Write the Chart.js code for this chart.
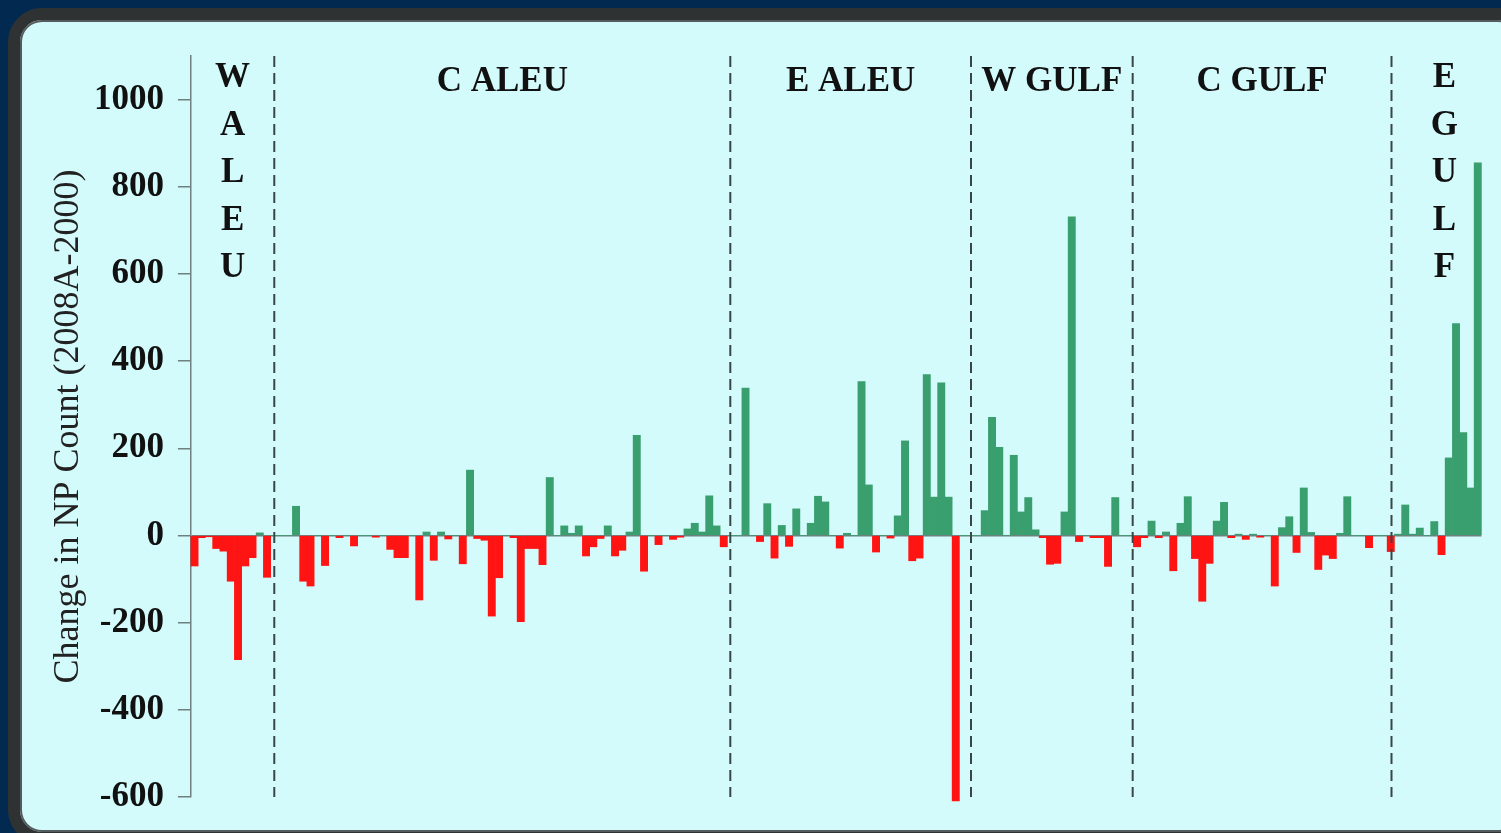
<!DOCTYPE html>
<html>
<head>
<meta charset="utf-8">
<script src="https://cdn.jsdelivr.net/npm/chart.js@4.4.1/dist/chart.umd.min.js"></script>
<style>
    html, body { margin: 0; padding: 0; }
    body { width: 1501px; height: 833px; background: #022a50; position: relative; overflow: hidden; }
    .panel {
        position: absolute; left: 8px; top: 8px; width: 1500px; height: 812px;
        border: 12px solid #2f3233; border-radius: 34px; background: #d4fbfb;
        box-shadow: inset 0 0 0 2px #555a5c;
    }
    #npChart { position: absolute; left: 0; top: 0; }
</style>
</head>
<body>
<div class="panel"></div>
<canvas id="npChart" width="1501" height="833"></canvas>
<script>
// regions along the coast, west to east
const regionNames = ['W ALEU', 'C ALEU', 'E ALEU', 'W GULF', 'C GULF', 'E GULF'];
// dashed separators, as category positions
const dividers = [11.0, 73.9, 107.1, 129.4, 165.1];

// change in NP count per site (2008A - 2000)
const changes = [
    -70, -5, -3, -30, -36, -105, -285, -70, -51, 6, -96,
    0, 0, 0, 67, -105, -116, 0, -69, 0, -5, 0, -24, 0, 0, -4, 0, -32, -51, -51,
    0, -148, 8, -57, 8, -8, 0, -65, 150, -7, -11, -185, -97, 0, -5, -198, -30, -30, -67, 133,
    0, 22, 5, 22, -47, -26, -7, 22, -47, -34, 8, 230, -82, 0, -21, 0, -9, -4, 15, 28,
    8, 91, 22, -26, 0, 0, 338, 0, -14, 73, -52, 23, -25, 61, 0, 28, 90, 77, 0, -29,
    5, 0, 353, 116, -38, 0, -6, 45, 217, -58, -52, 369, 88, 350, 88, -609, 0, 0, 0, 57,
    271, 202, 0, 184, 54, 87, 13, -5, -66, -64, 54, 731, -14, 0, -5, -5, -71, 87, 0, 0,
    -26, -5, 33, -5, 8, -81, 28, 89, -53, -151, -64, 33, 76, -5, 3, -9, 3, -4, 0, -116,
    18, 43, -39, 109, 7, -78, -45, -53, 5, 89, 0, 0, -28, 0, 0, -37, 3, 70, 3, 17,
    0, 32, -44, 178, 486, 236, 109, 855
];
const sites = changes.map((_, i) => i + 1);

const yMin = -600;
const yMax = 1100;
const yStep = 200;

const green = '#3a9f6f';
const red = '#ff1414';
const axisGrey = '#6f8081';

const regionPlugin = {
    id: 'regions',
    afterDatasetsDraw(chart) {
        const { ctx, chartArea: a, scales: { x } } = chart;
        const xs = dividers.map(d => x.getPixelForValue(d));
        ctx.save();
        ctx.strokeStyle = '#394646';
        ctx.lineWidth = 2;
        ctx.setLineDash([11, 6]);
        xs.forEach(px => {
            ctx.beginPath();
            ctx.moveTo(px, a.top);
            ctx.lineTo(px, a.bottom);
            ctx.stroke();
        });
        ctx.setLineDash([]);

        ctx.fillStyle = '#111';
        ctx.font = 'bold 35px "Liberation Serif"';
        ctx.textAlign = 'center';
        ctx.textBaseline = 'middle';
        const edges = [a.left, ...xs, a.right];
        regionNames.forEach((name, i) => {
            const cx = (edges[i] + edges[i + 1]) / 2;
            const w = edges[i + 1] - edges[i];
            if (ctx.measureText(name).width < w - 10) {
                ctx.fillText(name, cx, 82);
            } else {
                // too narrow: stack the letters
                name.replace(/ /g, '').split('').forEach((ch, j) => {
                    ctx.fillText(ch, cx + (i === 0 ? 0 : 8), 78 + j * 47.5);
                });
            }
        });
        ctx.restore();
    }
};

document.addEventListener('DOMContentLoaded', function () {
    const ctx = document.getElementById('npChart');
    new Chart(ctx, {
        type: 'bar',
        data: {
            labels: sites,
            datasets: [{
                data: changes,
                backgroundColor: changes.map(v => v >= 0 ? green : red),
                borderWidth: 0,
                barPercentage: 1,
                categoryPercentage: 1,
                clip: false // the deepest bar runs a bit past -600
            }]
        },
        options: {
            responsive: false,
            animation: false,
            layout: {
                padding: { left: 45, right: 19.6, top: 56, bottom: 36 }
            },
            plugins: {
                legend: { display: false },
                tooltip: { enabled: false }
            },
            scales: {
                x: {
                    display: false
                },
                y: {
                    min: yMin,
                    max: yMax,
                    afterFit(scale) {
                        scale.width = 145.9; // keep the plot left edge where the original has it
                    },
                    ticks: {
                        stepSize: yStep,
                        includeBounds: false,
                        padding: 14,
                        color: '#111',
                        font: { family: 'Liberation Serif', size: 35, weight: 'bold' },
                        callback: v => String(v)
                    },
                    border: { color: axisGrey, width: 1.5 },
                    grid: {
                        color: c => c.tick && c.tick.value === 0 ? axisGrey : 'transparent',
                        tickColor: axisGrey,
                        tickLength: 13,
                        lineWidth: 1.5
                    },
                    title: {
                        display: true,
                        text: 'Change in NP Count (2008A-2000)',
                        color: '#222',
                        font: { family: 'Liberation Serif', size: 36 },
                        padding: 2
                    }
                }
            }
        },
        plugins: [regionPlugin]
    });
});
</script>
</body>
</html>
